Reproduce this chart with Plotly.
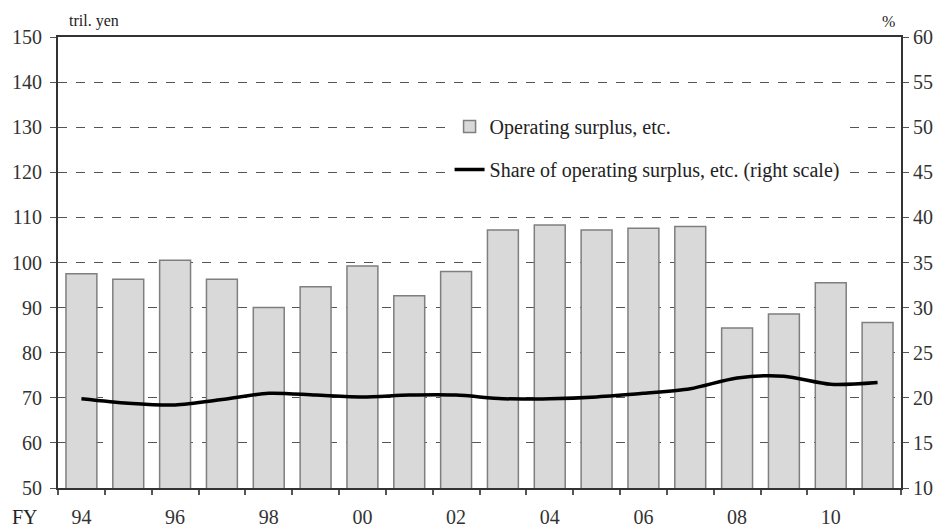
import plotly.graph_objects as go

# FY 1994 - 2011
years = list(range(1994, 2012))
surplus = [97.5, 96.3, 100.5, 96.3, 90.0, 94.6, 99.2, 92.6, 98.0, 107.2,
           108.3, 107.2, 107.6, 108.0, 85.5, 88.6, 95.5, 86.7]
share = [19.9, 19.4, 19.2, 19.8, 20.5, 20.3, 20.1, 20.3, 20.3, 19.9,
         19.9, 20.1, 20.5, 21.0, 22.2, 22.4, 21.5, 21.7]
tick_years = [1994, 1996, 1998, 2000, 2002, 2004, 2006, 2008, 2010]
tick_text = ["94", "96", "98", "00", "02", "04", "06", "08", "10"]

serif = "Liberation Serif"

fig = go.Figure()

fig.add_trace(go.Bar(
    x=years, y=surplus,
    name="Operating surplus, etc.",
    legendgroup="a",
    marker=dict(color="#d9d9d9", line=dict(color="#7f7f7f", width=1.5)),
    yaxis="y",
))

fig.add_trace(go.Scatter(
    x=years, y=share,
    name="Share of operating surplus, etc. (right scale)",
    legendgroup="b",
    mode="lines", line=dict(color="black", width=3.5, shape="spline", smoothing=0.8),
    yaxis="y2",
))

fig.update_layout(
    width=946, height=532,
    margin=dict(l=50, r=53, t=29, b=52),
    plot_bgcolor="white", paper_bgcolor="white",
    font=dict(family=serif, size=20, color="#333"),
    bargap=0.34,
    showlegend=True,
    legend=dict(
        x=0.4645, y=0.845, xanchor="left", yanchor="top",
        bgcolor="white", borderwidth=0,
        font=dict(family=serif, size=20, color="#222"),
        traceorder="grouped", itemwidth=30, tracegroupgap=14,
    ),
    xaxis=dict(
        range=[1993.5, 2011.5],
        tickvals=tick_years, ticktext=tick_text,
        ticks="", showgrid=False, automargin=False,
        ticklabelstandoff=10,
        showline=True, linecolor="#333", linewidth=2, mirror=True,
        minor=dict(tick0=1993.5, dtick=1, ticks="outside", ticklen=5,
                   tickcolor="#555", tickwidth=1.5, showgrid=False),
        tickfont=dict(size=20),
    ),
    yaxis=dict(
        range=[50, 150], dtick=10, automargin=False,
        ticklabelstandoff=4,
        showgrid=True, gridcolor="#555", griddash="dash", gridwidth=1,
        showline=True, linecolor="#333", linewidth=2,
        ticks="outside", ticklen=6, tickcolor="#555",
        zeroline=False,
    ),
    yaxis2=dict(
        range=[10, 60], dtick=5, overlaying="y", side="right", automargin=False,
        showgrid=False, showline=True, linecolor="#333", linewidth=2,
        ticks="outside", ticklen=6, tickcolor="#555",
        zeroline=False,
    ),
)

fig.add_annotation(text="tril. yen", xref="paper", yref="paper", x=0.011, y=1.0,
                   xanchor="left", yanchor="bottom", yshift=5, showarrow=False,
                   font=dict(family=serif, size=16, color="#222"))
fig.add_annotation(text="%", xref="paper", yref="paper", x=0.995, y=1.0,
                   xanchor="right", yanchor="bottom", yshift=5, showarrow=False,
                   font=dict(family=serif, size=16, color="#222"))
fig.add_annotation(text="FY", xref="paper", yref="paper", x=-0.057, y=0,
                   xanchor="left", yanchor="top", yshift=-16, showarrow=False,
                   font=dict(family=serif, size=20, color="#222"))

fig.write_html("out.html")
